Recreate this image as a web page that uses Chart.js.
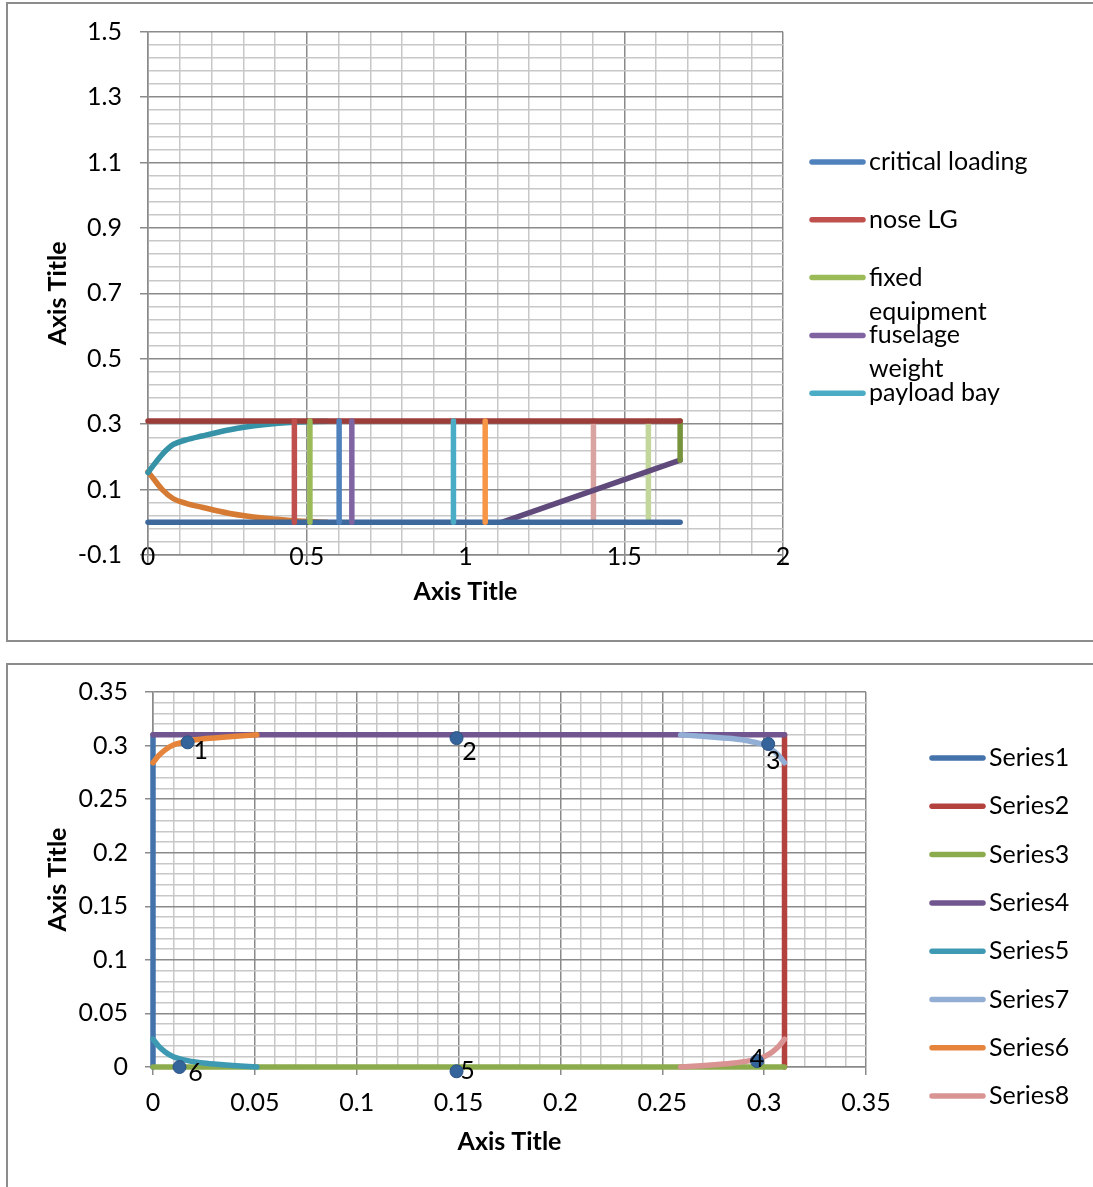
<!DOCTYPE html>
<html>
<head>
<meta charset="utf-8">
<script src="https://cdn.jsdelivr.net/npm/chart.js@4.4.1/dist/chart.umd.min.js"></script>
<style>
  body { margin: 0; background: #fff; }
  .frame { position: absolute; border: 2px solid #8c8c8c; }
  canvas { position: absolute; left: 0; }
</style>
</head>
<body>
<div class="frame" style="left:6px;top:2px;width:1200px;height:636px"></div>
<div class="frame" style="left:6px;top:663px;width:1200px;height:600px"></div>
<canvas id="envelopeChart" width="1093" height="650" style="top:0"></canvas>
<canvas id="cornerChart" width="1093" height="537" style="top:650px"></canvas>
<script>
// ---- chart 1: loading envelope ----
const envNames = ["critical loading", "nose LG", "fixed equipment", "fuselage weight", "payload bay",
  "Series6", "Series7", "Series8", "Series9", "Series10", "Series11", "Series12", "Series14", "Series15"];
const envColors = ["#4F81BD", "#C0504D", "#9BBB59", "#8064A2", "#4BACC6",
  "#F79646", "#3D689C", "#9C3D3A", "#77933C", "#604A7B", "#3592A7", "#D67B33", "#D9A3A1", "#C3D69B"];
const fullHeightY = [0, 0.31];
const criticalX = [0.602, 0.602];
const noseLgX = [0.461, 0.461];
const fixedEqX = [0.51, 0.51];
const fuselageX = [0.642, 0.642];
const payloadX = [0.962, 0.962];
const series6X = [1.062, 1.062];
const baseX = [0, 1.676];
const baseY = [0, 0];
const topX = [0, 1.676];
const topY = [0.31, 0.31];
const tailX = [1.676, 1.676];
const tailY = [0.19, 0.31];
const rampX = [1.114, 1.676];
const rampY = [0, 0.19];
const curveX = [0, 0.02, 0.045, 0.08, 0.12, 0.17, 0.258, 0.363, 0.458, 0.563];
const upperCurveY = [0.152, 0.178, 0.208, 0.238, 0.252, 0.264, 0.283, 0.298, 0.306, 0.309];
const lowerCurveY = [0.155, 0.13, 0.1, 0.072, 0.058, 0.046, 0.027, 0.013, 0.005, 0.0];
const series14X = [1.403, 1.403];
const series15X = [1.576, 1.576];
const envXLabels = ["0", "0.5", "1", "1.5", "2"];
const envYLabels = ["-0.1", "0.1", "0.3", "0.5", "0.7", "0.9", "1.1", "1.3", "1.5"];

// ---- chart 2: corner fillets ----
const cornerNames = ["Series1", "Series2", "Series3", "Series4", "Series5", "Series7", "Series6", "Series8", "Series9"];
const cornerColors = ["#4373AA", "#B3423F", "#8BAB4C", "#71558F", "#3E9AB2", "#93AED4", "#E5843A", "#D99392", "#35649A"];
const s1X = [0, 0], s1Y = [0, 0.31];
const s2X = [0.31, 0.31], s2Y = [0, 0.31];
const s3X = [0, 0.31], s3Y = [0, 0];
const s4X = [0, 0.31], s4Y = [0.31, 0.31];
const leftCurveX = [0, 0.003, 0.006, 0.01, 0.017, 0.026, 0.039, 0.051];
const s5Y = [0.026, 0.019, 0.014, 0.0095, 0.006, 0.0035, 0.0015, 0];
const s6Y = [0.284, 0.291, 0.296, 0.3005, 0.304, 0.3065, 0.3085, 0.31];
const rightCurveX = [0.259, 0.271, 0.284, 0.293, 0.3, 0.304, 0.307, 0.31];
const s7Y = [0.31, 0.3085, 0.3065, 0.304, 0.3005, 0.296, 0.291, 0.284];
const s8Y = [0, 0.0015, 0.0035, 0.006, 0.0095, 0.014, 0.019, 0.026];
const markerX = [0.017, 0.149, 0.302, 0.2965, 0.149, 0.013];
const markerY = [0.303, 0.307, 0.3015, 0.0056, -0.004, 0];
const markerText = ["1", "2", "3", "4", "5", "6"];
const markerTextDx = [13, 13, 5, 0, 11, 16];
const markerTextDy = [9, 14, 17, -2, 0, 6];
const cornerLabels = ["0", "0.05", "0.1", "0.15", "0.2", "0.25", "0.3", "0.35"];

const FONT = "Lato";
Chart.defaults.font.family = FONT;
Chart.defaults.color = "#000";

const pts = (xs, ys) => xs.map((x, i) => ({ x: x, y: ys[i] }));

function lineSet(label, color, xs, ys, smooth) {
  return {
    label: label,
    data: pts(xs, ys),
    showLine: true,
    borderColor: color,
    backgroundColor: color,
    borderWidth: 5.5,
    borderCapStyle: "round",
    borderJoinStyle: "round",
    pointRadius: 0,
    clip: false,
    tension: smooth ? 0.4 : 0,
    cubicInterpolationMode: smooth ? "monotone" : "default",
  };
}

function near(a, b) {
  return Math.abs(a - b) < 1e-7;
}

// axis with major labels + Excel-like minor gridlines
function gridAxis(min, max, minor, labels, tickPad, titlePad, size, mirror) {
  const majors = labels.map(Number);
  const isMajor = (v) => majors.some((m) => near(m, v));
  return {
    type: "linear",
    min: min,
    max: max,
    afterBuildTicks: (scale) => {
      const n = Math.round((max - min) / minor);
      const t = [];
      for (let i = 0; i <= n; i++) t.push({ value: +(min + i * minor).toFixed(6) });
      scale.ticks = t;
    },
    afterFit: (s) => {
      if (s.isHorizontal()) s.height = size;
      else s.width = size;
    },
    ticks: {
      autoSkip: false,
      maxRotation: 0,
      mirror: !!mirror,
      padding: tickPad,
      font: { size: 25, lineHeight: 1 },
      callback: (v) => {
        const k = majors.findIndex((m) => near(m, v));
        return k < 0 ? "" : labels[k];
      },
    },
    grid: {
      drawTicks: true,
      tickLength: 8,
      lineWidth: 1.5,
      color: (c) => (c.tick && isMajor(c.tick.value) ? "#8a8a8a" : "#c8c8c8"),
      tickColor: (c) => (c.tick && isMajor(c.tick.value) ? "#8a8a8a" : "rgba(0,0,0,0)"),
    },
    border: { color: "#8a8a8a", width: 1.5 },
    title: {
      display: true,
      text: "Axis Title",
      padding: titlePad,
      font: { size: 25, weight: "bold", lineHeight: 1.2 },
    },
  };
}

function wrapText(ctx, text, maxWidth) {
  const words = text.split(" ");
  const lines = [];
  let cur = "";
  words.forEach((w) => {
    const test = cur ? cur + " " + w : w;
    if (cur && ctx.measureText(test).width > maxWidth) {
      lines.push(cur);
      cur = w;
    } else {
      cur = test;
    }
  });
  if (cur) lines.push(cur);
  return lines;
}

const excelLegend = {
  id: "excelLegend",
  afterDraw(chart, args, opts) {
    const ctx = chart.ctx;
    ctx.save();
    ctx.font = opts.size + "px " + FONT;
    ctx.textBaseline = "middle";
    ctx.textAlign = "left";
    chart.data.datasets.slice(0, opts.count).forEach((ds, i) => {
      const y = opts.top + i * opts.step;
      ctx.strokeStyle = ds.borderColor;
      ctx.lineWidth = 5.5;
      ctx.lineCap = "round";
      ctx.beginPath();
      ctx.moveTo(opts.x1, y);
      ctx.lineTo(opts.x2, y);
      ctx.stroke();
      ctx.fillStyle = "#000";
      wrapText(ctx, ds.label, opts.maxWidth).forEach((line, k) => {
        ctx.fillText(line, opts.textX, y + k * opts.lineGap);
      });
    });
    ctx.restore();
  },
};

const pointText = {
  id: "pointText",
  afterDatasetsDraw(chart) {
    const ctx = chart.ctx;
    chart.data.datasets.forEach((ds, i) => {
      if (!ds.pointText) return;
      const meta = chart.getDatasetMeta(i);
      ctx.save();
      ctx.font = "25px " + FONT;
      ctx.fillStyle = "#000";
      ctx.textAlign = "center";
      ctx.textBaseline = "middle";
      meta.data.forEach((el, j) => {
        ctx.fillText(ds.pointText[j], el.x + markerTextDx[j], el.y + markerTextDy[j]);
      });
      ctx.restore();
    });
  },
};

function initEnvelope() {
  const ctx = document.getElementById("envelopeChart");
  const series = [
    [criticalX, fullHeightY], [noseLgX, fullHeightY], [fixedEqX, fullHeightY], [fuselageX, fullHeightY],
    [payloadX, fullHeightY], [series6X, fullHeightY], [baseX, baseY], [topX, topY], [tailX, tailY],
    [rampX, rampY], [curveX, upperCurveY], [curveX, lowerCurveY], [series14X, fullHeightY], [series15X, fullHeightY],
  ];
  new Chart(ctx, {
    type: "scatter",
    data: {
      datasets: series.map((s, i) => lineSet(envNames[i], envColors[i], s[0], s[1], i === 10 || i === 11)),
    },
    options: {
      responsive: false,
      animation: false,
      events: [],
      layout: { padding: { left: 0, top: 31.7, right: 310, bottom: 0 } },
      plugins: {
        legend: { display: false },
        tooltip: { enabled: false },
        excelLegend: { count: 5, top: 162, step: 57.8, x1: 812, x2: 863, textX: 869, size: 25, lineGap: 34, maxWidth: 170 },
      },
      scales: {
        x: gridAxis(0, 2, 0.1, envXLabels, -14.5, { top: 4, bottom: 43 }, 95, true),
        y: gridAxis(-0.1, 1.5, 0.04, envYLabels, 18, { top: 43, bottom: 4 }, 148),
      },
    },
    plugins: [excelLegend],
  });
}

function initCorner() {
  const ctx = document.getElementById("cornerChart");
  const series = [
    [s1X, s1Y], [s2X, s2Y], [s3X, s3Y], [s4X, s4Y],
    [leftCurveX, s5Y], [rightCurveX, s7Y], [leftCurveX, s6Y], [rightCurveX, s8Y],
  ];
  const datasets = series.map((s, i) => {
    const d = lineSet(cornerNames[i], cornerColors[i], s[0], s[1], i >= 4);
    d.order = -i;
    return d;
  });
  datasets.push({
    label: cornerNames[8],
    data: pts(markerX, markerY),
    showLine: false,
    pointRadius: 6.5,
    pointBackgroundColor: cornerColors[8],
    pointBorderColor: "#2A5285",
    pointBorderWidth: 1,
    borderColor: cornerColors[8],
    clip: false,
    order: -20,
    pointText: markerText,
  });
  new Chart(ctx, {
    type: "scatter",
    data: { datasets: datasets },
    options: {
      responsive: false,
      animation: false,
      events: [],
      layout: { padding: { left: 0, top: 42, right: 227, bottom: 0 } },
      plugins: {
        legend: { display: false },
        tooltip: { enabled: false },
        excelLegend: { count: 8, top: 108, step: 48.3, x1: 932, x2: 983, textX: 989, size: 25, lineGap: 34, maxWidth: 170 },
      },
      scales: {
        x: gridAxis(0, 0.35, 0.01, cornerLabels, 15.5, { top: 4, bottom: 30 }, 120),
        y: gridAxis(0, 0.35, 0.01, cornerLabels, 17, { top: 43, bottom: 4 }, 153),
      },
    },
    plugins: [excelLegend, pointText],
  });
}

initEnvelope();
initCorner();
</script>
</body>
</html>
